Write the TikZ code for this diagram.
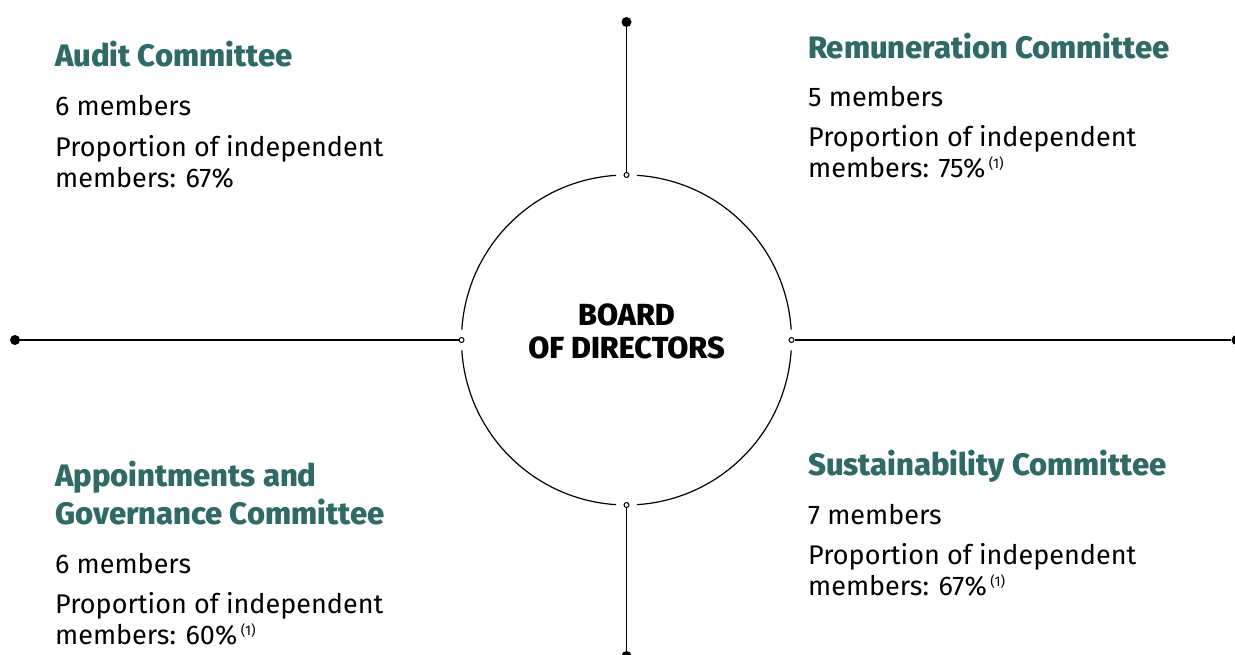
\documentclass[tikz,border=0pt]{standalone}
\usepackage{fontspec}
\setmainfont{Fira Sans}
\newfontfamily\heavyfont{Fira Sans ExtraBold}
\usetikzlibrary{calc}
\definecolor{teal1}{HTML}{2F6A66}
\begin{document}
\begin{tikzpicture}[x=1pt,y=-1pt,
  ttl/.style={anchor=base west,inner sep=0pt,text=teal1,font=\fontsize{31}{36}\heavyfont},
  bodytxt/.style={anchor=base west,inner sep=0pt,font=\fontsize{27}{32}\selectfont},
  boardtxt/.style={anchor=base,inner sep=0pt,font=\fontsize{30.5}{34}\heavyfont},
  port/.style={circle,draw,fill=white,line width=1pt,minimum size=5pt,inner sep=0pt},
  enddot/.style={circle,fill=black,minimum size=10pt,inner sep=0pt},
  conn/.style={line width=1.2pt},
  sup1/.style={anchor=base west,inner sep=0pt,font=\fontsize{14}{16}\selectfont}]
\useasboundingbox (0,0) rectangle (1235,655);
\coordinate (c) at (626.5,340);
% circle arcs with gaps
\foreach \a in {0,90,180,270}{
  \draw[line width=1.2pt] ($(c)+(\a+3.6:165)$) arc[start angle=\a+3.6, end angle=\a+86.4, radius=165];
}
\node[port] (pt) at (626.5,175) {};
\node[port] (pb) at (626.5,505) {};
\node[port] (pl) at (461.5,340) {};
\node[port] (pr) at (791.5,340) {};
\node[enddot] (et) at (626.5,22) {};
\node[enddot] (eb) at (626.5,656) {};
\node[enddot] (el) at (15,340) {};
\node[enddot] (er) at (1236.5,340) {};
\draw[conn] (et) -- (pt);
\draw[conn] (eb) -- (pb);
\draw[conn] (el) -- (pl);
\draw[conn] (er) -- (pr);
\node[boardtxt] (board1) at (626.5,326) {BOARD};
\node[boardtxt] (board2) at (626.5,358) {OF DIRECTORS};
% Audit
\node[ttl] (at) at (55,67) {Audit Committee};
\node[bodytxt] (a1) at (55,116) {6 members};
\node[bodytxt] (a2) at (55,157) {Proportion of independent};
\node[bodytxt] (a3) at (55,188) {members: 67\%};
% Remuneration
\node[ttl] (rt) at (808,59) {Remuneration Committee};
\node[bodytxt] (r1) at (808,107) {5 members};
\node[bodytxt] (r2) at (808,147) {Proportion of independent};
\node[bodytxt] (r3) at (808,178) {members: 75\%};
\node[sup1] at ([xshift=3pt]r3.base east) [yshift=9pt] {(1)};
% Appointments
\node[ttl] (gt1) at (55,486) {Appointments and};
\node[ttl] (gt2) at (55,524) {Governance Committee};
\node[bodytxt] (g1) at (55,573) {6 members};
\node[bodytxt] (g2) at (55,613) {Proportion of independent};
\node[bodytxt] (g3) at (55,644) {members: 60\%};
\node[sup1] at ([xshift=3pt]g3.base east) [yshift=9pt] {(1)};
% Sustainability
\node[ttl] (st) at (808,475) {Sustainability Committee};
\node[bodytxt] (s1) at (808,524) {7 members};
\node[bodytxt] (s2) at (808,564) {Proportion of independent};
\node[bodytxt] (s3) at (808,595) {members: 67\%};
\node[sup1] at ([xshift=3pt]s3.base east) [yshift=9pt] {(1)};
\end{tikzpicture}
\end{document}
